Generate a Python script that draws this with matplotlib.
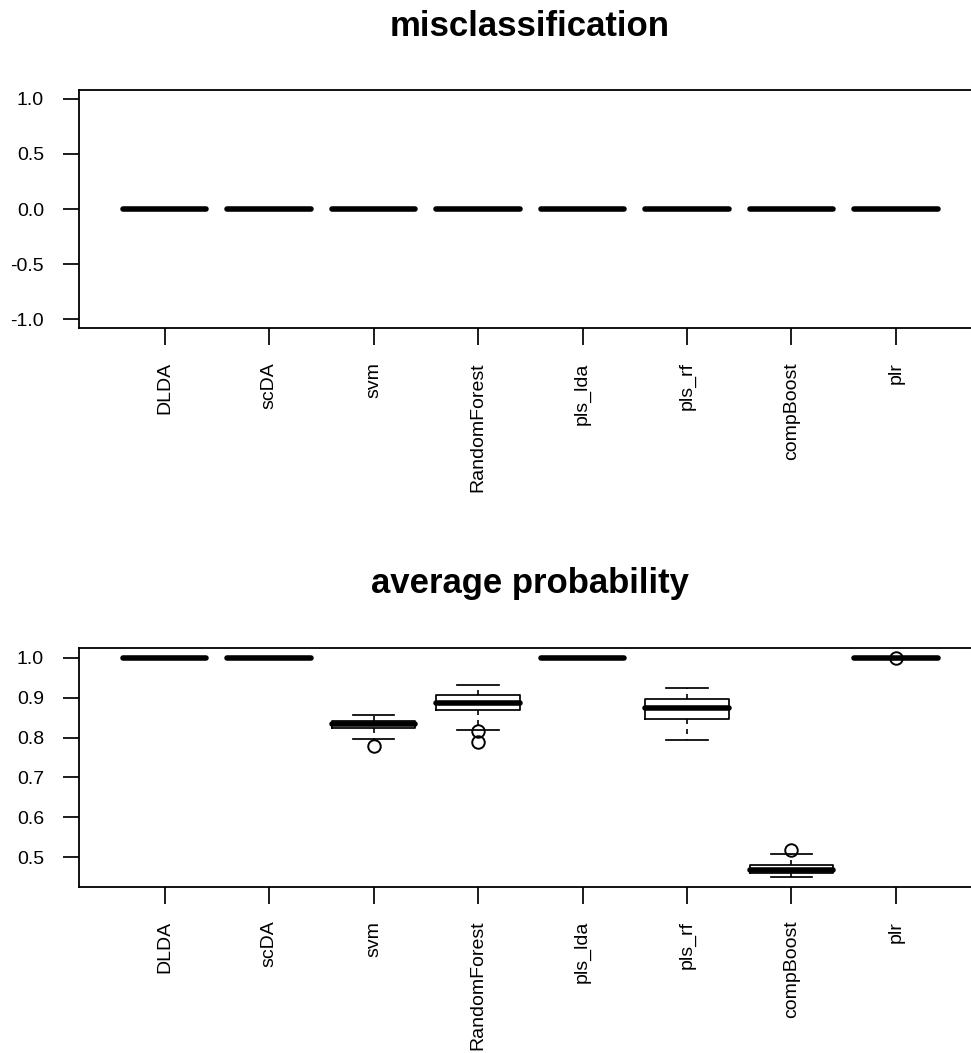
import matplotlib
matplotlib.use("Agg")
import matplotlib.pyplot as plt

plt.rcParams['font.family'] = ['Liberation Sans', 'DejaVu Sans']

methods = ['DLDA', 'scDA', 'svm', 'RandomForest', 'pls_lda', 'pls_rf', 'compBoost', 'plr']

# misclassification: every method had zero misclassification
mis_med = [0.0] * 8
mis_q1 = [0.0] * 8
mis_q3 = [0.0] * 8
mis_lo = [0.0] * 8
mis_hi = [0.0] * 8
mis_fliers = [[] for _ in range(8)]

# average probability box statistics
prob_med = [1.0, 1.0, 0.833, 0.887, 1.0, 0.874, 0.468, 1.0]
prob_q1 = [1.0, 1.0, 0.825, 0.869, 1.0, 0.8465, 0.461, 1.0]
prob_q3 = [1.0, 1.0, 0.8415, 0.906, 1.0, 0.896, 0.481, 1.0]
prob_lo = [1.0, 1.0, 0.7965, 0.820, 1.0, 0.793, 0.450, 1.0]
prob_hi = [1.0, 1.0, 0.856, 0.933, 1.0, 0.924, 0.509, 1.0]
prob_fliers = [[], [], [0.780], [0.8165, 0.789], [], [], [0.518], [0.999]]

mis_yticks = [-1.0, -0.5, 0.0, 0.5, 1.0]
prob_yticks = [0.5, 0.6, 0.7, 0.8, 0.9, 1.0]

W, H = 971, 1053
fig = plt.figure(figsize=(W / 100, H / 100), dpi=100)

def make_stats(med, q1, q3, lo, hi, fl):
    return [dict(med=m, q1=a, q3=b, whislo=l, whishi=h, fliers=f, label=n)
            for m, a, b, l, h, f, n in zip(med, q1, q3, lo, hi, fl, methods)]

def draw(ax, stats, ylim, yticks, title, title_y):
    ax.bxp(stats, positions=range(1, 9), widths=0.8,
           boxprops=dict(color='black', linewidth=1.25),
           whiskerprops=dict(color='black', linewidth=1.2, linestyle=(0, (3, 3))),
           capprops=dict(color='black', linewidth=1.25),
           medianprops=dict(color='black', linewidth=4.0, solid_capstyle='round'),
           flierprops=dict(marker='o', markerfacecolor='none', markeredgecolor='black',
                           markersize=9, markeredgewidth=1.4, linestyle='none'),
           showfliers=True)
    ax.set_xlim(0.18, 8.82)
    ax.set_ylim(*ylim)
    ax.set_xticks(range(1, 9))
    ax.set_xticklabels(methods, rotation=90, fontsize=14)
    ax.set_yticks(yticks)
    ax.set_yticklabels([f"{v:.1f}" for v in yticks], fontsize=14)
    ax.tick_params(axis='x', length=12, width=1.25, pad=12.5)
    ax.tick_params(axis='y', length=11.5, width=1.25, pad=13.7)
    for s in ax.spines.values():
        s.set_linewidth(1.3)
    fig.text(530 / W, 1 - title_y / H, title, ha='center', va='baseline',
             fontsize=25, fontweight='bold')

left = 79 / W
width = (981.6 - 79) / W

ax1 = fig.add_axes([left, 1 - 328.3 / H, width, (328.3 - 90) / H])
draw(ax1, make_stats(mis_med, mis_q1, mis_q3, mis_lo, mis_hi, mis_fliers),
     (-1.08, 1.08), mis_yticks, 'misclassification', 36)

ax2 = fig.add_axes([left, 1 - 886.7 / H, width, (886.7 - 647.5) / H])
draw(ax2, make_stats(prob_med, prob_q1, prob_q3, prob_lo, prob_hi, prob_fliers),
     (0.426, 1.026), prob_yticks, 'average probability', 593)

fig.savefig('out.png', dpi=100)
